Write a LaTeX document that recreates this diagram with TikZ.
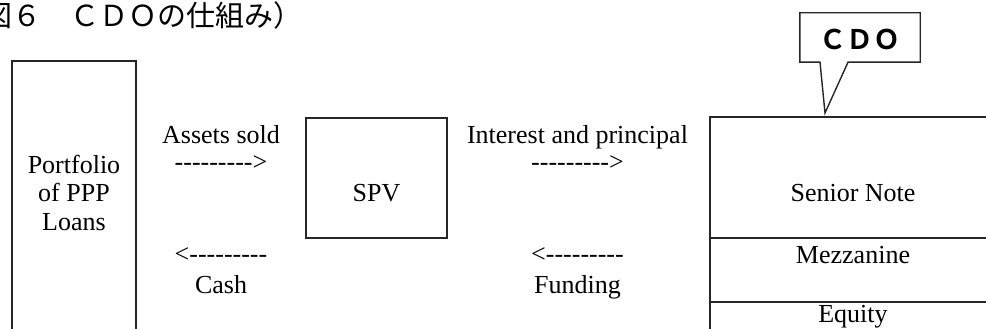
\documentclass[tikz,border=0pt]{standalone}
\usepackage{fontspec}
\setmainfont{Liberation Serif}[Ligatures=TeXOff]
\newfontfamily\cjk{Noto Sans CJK JP}[BoldFont={Noto Sans CJK JP Bold}]

\begin{document}
\begin{tikzpicture}[
    x=1pt, y=-1pt,
    every node/.style={
        inner sep=0pt,
        font=\fontsize{26}{28.5}\selectfont
    },
    box/.style={
        draw=black!85,
        line width=1.4pt,
        outer sep=0pt
    },
    flowtext/.style={anchor=base, align=center},
    cjktext/.style={font=\cjk\fontsize{29}{29}\selectfont}
]
\useasboundingbox (0,0) rectangle (986,329);

\node[cjktext, anchor=base west] (title) at (-16.5,27) {図６　ＣＤＯの仕組み）};

% pool of loans
\node[box, anchor=north west, minimum width=124pt, minimum height=300pt] (loans) at (12,61) {};
\node[flowtext] (loanstext) at (74,230) {Portfolio\\of PPP\\Loans};

\node[flowtext] (sold) at (221,143) {Assets sold};
\node[flowtext] (soldarrow) at (221,170) {--------->};
\node[flowtext] (casharrow) at (221,262) {<---------};
\node[flowtext] (cash) at (221,293) {Cash};

% vehicle
\node[box, minimum width=141pt, minimum height=120pt] (spv) at (376.5,178) {};
\node[flowtext] (spvtext) at (376.5,201) {SPV};

\node[flowtext] (interest) at (577.5,143) {Interest and principal};
\node[flowtext] (interestarrow) at (577.5,170) {--------->};
\node[flowtext] (fundingarrow) at (577.5,262) {<---------};
\node[flowtext] (funding) at (577.5,293) {Funding};

% tranches
\node[box, anchor=north west, minimum width=286pt, minimum height=121pt] (senior) at (710,117) {};
\node[box, anchor=north west, minimum width=286pt, minimum height=64pt] (mezz) at (senior.south west) {};
\node[box, anchor=north west, minimum width=286pt, minimum height=60pt] (equity) at (mezz.south west) {};
\node[flowtext] (seniortext) at (853,201) {Senior Note};
\node[flowtext] (mezztext) at (853,263) {Mezzanine};
\node[flowtext] (equitytext) at (853,322) {Equity};

% callout
\node[minimum width=120pt, minimum height=49pt] (cdotag) at (860,37.5) {};
\node[cjktext, anchor=base, font=\cjk\bfseries\fontsize{27}{27}\selectfont] (cdotext) at (860,50) {ＣＤＯ};
\coordinate (tip) at (825,113);
\draw[box, line join=miter] (cdotag.south west) -- (cdotag.north west) -- (cdotag.north east)
    -- (cdotag.south east) -- ([xshift=-12pt]cdotag.south) -- (tip)
    -- ([xshift=-40pt]cdotag.south) -- cycle;

\end{tikzpicture}
\end{document}
